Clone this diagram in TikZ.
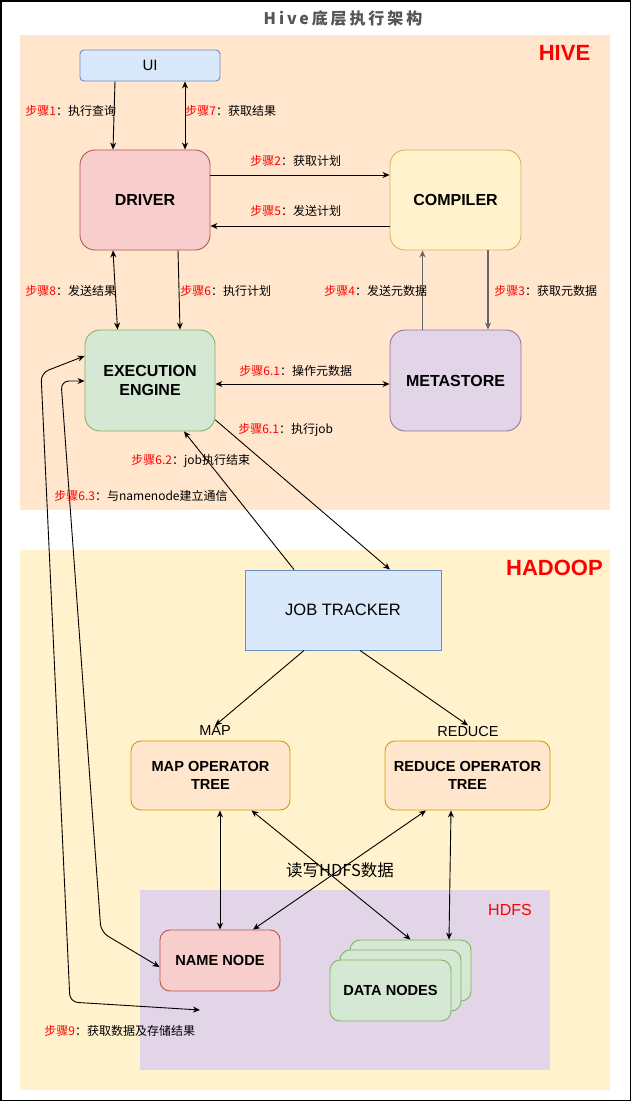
\documentclass[tikz,border=0pt]{standalone}
\usepackage{fontspec}
\setmainfont{Liberation Sans}
\newfontfamily\cjk{Noto Sans CJK SC}
\usetikzlibrary{arrows.meta}
\definecolor{hivebg}{HTML}{FFE6CC}
\definecolor{hadoopbg}{HTML}{FFF2CC}
\definecolor{hdfsbg}{HTML}{E1D5E7}
\definecolor{bluefill}{HTML}{DAE8FC}
\definecolor{bluedraw}{HTML}{6C8EBF}
\definecolor{redfill}{HTML}{F8CECC}
\definecolor{reddraw}{HTML}{B85450}
\definecolor{yellowfill}{HTML}{FFF2CC}
\definecolor{yellowdraw}{HTML}{D6B656}
\definecolor{greenfill}{HTML}{D5E8D4}
\definecolor{greendraw}{HTML}{82B366}
\definecolor{purplefill}{HTML}{E1D5E7}
\definecolor{purpledraw}{HTML}{9673A6}
\definecolor{orangefill}{HTML}{FFE6CC}
\definecolor{orangedraw}{HTML}{D79B00}
\definecolor{titlegray}{HTML}{555555}
\definecolor{linegray}{HTML}{666666}
\newcommand{\stepno}[2]{\textcolor{red}{步骤#1}：#2}

\begin{document}
\begin{tikzpicture}[x=1pt, y=-1pt, line width=0.9pt,
    every node/.style={inner sep=0pt},
    rbox/.style={draw, rounded corners=15pt, align=center, minimum width=130pt, minimum height=100pt,
      font=\fontsize{16}{19}\selectfont\bfseries},
    tbox/.style={draw, rounded corners=10pt, align=center, font=\fontsize{14.6}{18}\selectfont\bfseries},
    steplab/.style={anchor=west, font=\cjk\fontsize{12}{14}\selectfont},
    region/.style={font=\fontsize{22}{26}\selectfont\bfseries, text=red},
    link/.style={-{Stealth[length=7pt,width=6pt]}},
    dlink/.style={{Stealth[length=7pt,width=6pt]}-{Stealth[length=7pt,width=6pt]}}]
    \useasboundingbox (0,0) rectangle (631,1101);
    % background areas
    \fill[white] (0,0) rectangle (631,1101);
    \fill[hivebg] (20,35) rectangle (610,510);
    \fill[hadoopbg] (20,550) rectangle (610,1090);
    \fill[hdfsbg] (140,890) rectangle (550,1070);
    \draw[line width=1.5pt] (0.75,0.75) rectangle (630.25,1100.25);
    \node[font=\cjk\fontsize{16}{18}\selectfont\bfseries\addfontfeature{LetterSpace=18}, text=titlegray] (title) at (343,18) {Hive底层执行架构};
    \node[region] (hivelab) at (564.5,53) {HIVE};
    \node[region] (hadooplab) at (554.5,568) {HADOOP};
    \node[font=\fontsize{16}{18}\selectfont, text=red] (hdfslab) at (510,910) {HDFS};

    % hive components
    \node[draw=bluedraw, fill=bluefill, rounded corners=4pt, minimum width=140pt, minimum height=31pt,
      font=\fontsize{15}{17}\selectfont] (ui) at (150,65.5) {UI};
    \node[rbox, draw=reddraw, fill=redfill] (driver) at (145,200) {DRIVER};
    \node[rbox, draw=yellowdraw, fill=yellowfill, minimum width=131pt] (compiler) at (455.5,200) {COMPILER};
    \node[rbox, draw=greendraw, fill=greenfill, minimum height=101pt] (exec) at (150,380.5) {EXECUTION\\ENGINE};
    \node[rbox, draw=purpledraw, fill=purplefill, minimum width=131pt, minimum height=101pt] (meta) at (455.5,380.5) {METASTORE};

    % hadoop components
    \node[draw=bluedraw, fill=bluefill, minimum width=196pt, minimum height=80pt,
      font=\fontsize{16.5}{19}\selectfont] (jt) at (343,610) {JOB TRACKER};
    \node[font=\fontsize{14.5}{16}\selectfont] (maplab) at (215,731) {MAP};
    \node[font=\fontsize{14.5}{16}\selectfont] (redlab) at (468,731) {REDUCE};
    \node[tbox, draw=orangedraw, fill=orangefill, minimum width=159pt, minimum height=69pt] (mapt) at (210.5,775.5) {MAP OPERATOR\\TREE};
    \node[tbox, draw=orangedraw, fill=orangefill, minimum width=165pt, minimum height=69pt] (redt) at (467.5,775.5) {REDUCE OPERATOR\\TREE};
    \node[tbox, draw=reddraw, fill=redfill, minimum width=120pt, minimum height=61pt] (namen) at (220,960.5) {NAME NODE};
    \node[tbox, draw=greendraw, fill=greenfill, minimum width=121pt, minimum height=61pt] (dn3) at (410.5,970.5) {};
    \node[tbox, draw=greendraw, fill=greenfill, minimum width=121pt, minimum height=61pt] (dn2) at (400.5,980.5) {};
    \node[tbox, draw=greendraw, fill=greenfill, minimum width=121pt, minimum height=61pt] (dn1) at (390.5,990.5) {DATA NODES};
    \node[font=\cjk\fontsize{16.5}{18}\selectfont] (rw) at (340,870) {读写HDFS数据};
    \coordinate (s9end) at (200,1010);

    % connectors inside hive
    \draw[link] ([xshift=-35pt]ui.south) -- ([xshift=-32pt]driver.north);
    \draw[dlink] ([xshift=35pt]ui.south) -- ([xshift=40pt]driver.north);
    \draw[link] ([yshift=25pt]driver.east) -- ([yshift=25pt]compiler.west);
    \draw[link] ([yshift=-26pt]compiler.west) -- ([yshift=-26pt]driver.east);
    \draw[dlink] ([xshift=-32pt]driver.south) -- ([xshift=-32.5pt]exec.north);
    \draw[link] ([xshift=33pt]driver.south) -- ([xshift=30pt]exec.north);
    \draw[link, draw=linegray, line width=1.4pt] ([xshift=-33pt]meta.north) -- ([xshift=-33pt]compiler.south);
    \draw[link, draw=linegray, line width=1.4pt] ([xshift=32.5pt]compiler.south) -- ([xshift=32.5pt]meta.north);
    \draw[dlink] ([yshift=-3.5pt]exec.east) -- ([yshift=-3.5pt]meta.west);

    % connectors to hadoop
    \draw[link] ([yshift=-39.5pt]exec.east) -- ([xshift=47pt]jt.north);
    \draw[link] ([xshift=-49pt]jt.north) -- ([xshift=34pt]exec.south);
    \draw[link] ([xshift=-39pt]jt.south) -- (maplab.north);
    \draw[link] ([xshift=17pt]jt.south) -- (redlab.north);
    \draw[dlink] ([xshift=9.5pt]mapt.south) -- (namen.north);
    \draw[dlink] ([xshift=41pt]mapt.south) -- (dn3.north);
    \draw[dlink] ([xshift=-41.5pt]redt.south) -- ([xshift=33pt]namen.north);
    \draw[dlink] ([xshift=-16.5pt]redt.south) -- ([xshift=38.5pt]dn3.north);
    \draw[dlink, rounded corners=8pt] (s9end) -- (70,1002) -- (41,373) -- ([yshift=24.5pt]exec.west);
    \draw[dlink, rounded corners=8pt] ([yshift=-6.5pt]namen.west) -- (101,932) -- (61,381) -- ([yshift=-0.5pt]exec.west);

    % step labels
    \node[steplab] (s1) at (25,111) {\stepno{1}{执行查询}};
    \node[steplab] (s7) at (185,111) {\stepno{7}{获取结果}};
    \node[steplab] (s2) at (250,161) {\stepno{2}{获取计划}};
    \node[steplab] (s5) at (250,211) {\stepno{5}{发送计划}};
    \node[steplab] (s8) at (25,291) {\stepno{8}{发送结果}};
    \node[steplab] (s6) at (180,291) {\stepno{6}{执行计划}};
    \node[steplab] (s4) at (324,291) {\stepno{4}{发送元数据}};
    \node[steplab] (s3) at (494,291) {\stepno{3}{获取元数据}};
    \node[steplab] (s61a) at (239,371) {\stepno{6.1}{操作元数据}};
    \node[steplab] (s61b) at (238,430) {\stepno{6.1}{执行job}};
    \node[steplab] (s62) at (131,461) {\stepno{6.2}{job执行结束}};
    \node[steplab] (s63) at (54,496) {\stepno{6.3}{与namenode建立通信}};
    \node[steplab] (s9) at (44,1031) {\stepno{9}{获取数据及存储结果}};
\end{tikzpicture}
\end{document}
